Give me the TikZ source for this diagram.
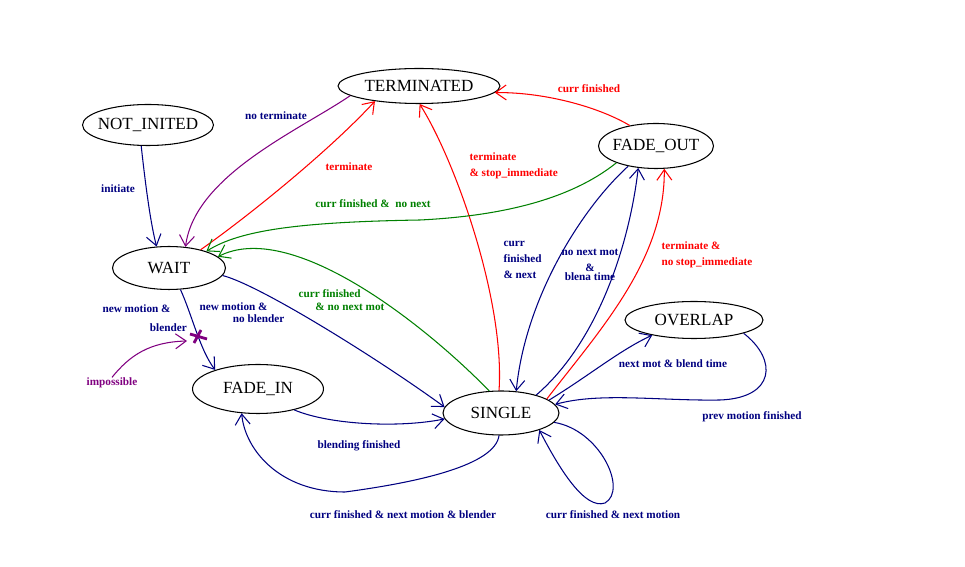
\documentclass[tikz,border=0pt]{standalone}
\usepackage{fontspec}
\setmainfont{Liberation Serif}
\usetikzlibrary{shapes.geometric,arrows.meta}
\definecolor{navy}{RGB}{0,0,128}
\definecolor{grn}{RGB}{0,128,0}
\definecolor{purp}{RGB}{128,0,128}
\begin{document}
\begin{tikzpicture}[x=0.02cm,y=-0.02cm,line width=0.6pt,>={Straight Barb[length=6pt,width=8.5pt]},
    state/.style={ellipse,draw,inner xsep=-6pt,inner ysep=0pt,font=\fontsize{9.7}{11}\selectfont},
    lab/.style={font=\fontsize{6.4}{9}\selectfont\bfseries,inner sep=0pt}]
    \useasboundingbox(0,0)rectangle(965,567);
    \node[state,minimum width=3.24cm,minimum height=0.70cm](term)at(419,86){TERMINATED};
    \node[state,minimum width=2.62cm,minimum height=0.82cm](notinit)at(148,125){NOT\_INITED};
    \node[state,minimum width=2.30cm,minimum height=0.90cm](fadeout)at(656,146){FADE\_OUT};
    \node[state,minimum width=2.26cm,minimum height=0.86cm](wait)at(169,268){WAIT};
    \node[state,minimum width=2.76cm,minimum height=0.74cm](overlap)at(694,320){OVERLAP};
    \node[state,minimum width=2.62cm,minimum height=0.98cm](fadein)at(258,389){FADE\_IN};
    \node[state,minimum width=2.32cm,minimum height=0.88cm](single)at(501,413){SINGLE};
    \draw[navy,->](notinit.252)..controls(146,190)and(151,225)..(wait.120);
    \draw[purp,->](term.188)..controls(300,130)and(195,175)..(wait.52);
    \draw[red,->](wait.30)..controls(250,215)and(330,150)..(term.199);
    \draw[red,->](single.95)..controls(505,300)and(455,160)..(term.272);
    \draw[red,->](fadeout.142)..controls(595,105)and(540,92)..(term.355);
    \draw[grn,->](fadeout.203)..controls(570,200)and(500,216)..(420,220)..controls(300,222)and(240,230)..(wait.24);
    \draw[grn,->](single.118)..controls(420,320)and(290,220)..(wait.13);
    \draw[navy,->](fadeout.216)..controls(580,210)and(525,300)..(single.55);
    \draw[navy,->](single.27)..controls(600,340)and(630,240)..(fadeout.231);
    \draw[red,->](single.17)..controls(600,330)and(665,260)..(fadeout.290);
    \draw[navy,->](single.15)..controls(590,375)and(620,350)..(overlap.200);
    \draw[navy,->](overlap.345)..controls(778,360)and(775,398)..(720,400)..controls(660,401)and(600,392)..(single.9);
    \draw[navy,->](wait.298)..controls(192,315)and(200,350)..(fadein.156);
    \draw[navy,->](wait.352)..controls(260,285)and(380,360)..(single.174);
    \draw[navy,->](fadein.330)..controls(330,425)and(400,428)..(single.186);
    \draw[navy,->](single.265)..controls(495,465)and(420,482)..(345,492)..controls(280,492)and(245,450)..(fadein.236);
    \draw[navy,->](single.350)..controls(600,430)and(628,490)..(605,503)..controls(585,510)and(560,470)..(single.336);
    \node[lab,purp](imp)at(112,383){impossible};
    \coordinate(imptip)at(187,341);
    \draw[purp,->](imp.north)..controls(130,355)and(150,342)..(imptip);
    \draw[purp,line width=1.6pt](190,334)--(207,339)(194,343)--(201,330);
    \node[lab,navy](noterm)at(276,116){no terminate};
    \node[lab,navy](init)at(118,189){initiate};
    \node[lab,red](termw)at(349,167){terminate};
    \node[lab,red,align=left,anchor=west](termstop)at(469,166){terminate\\\& stop\_immediate};
    \node[lab,red](curfin)at(589,89){curr finished};
    \node[lab,grn](finnonext)at(373,204){curr finished \&\ \ no next};
    \node[lab,navy,align=left,anchor=west](finnext)at(503,260){curr\\finished\\\& next};
    \node[lab,navy,align=center](nonext)at(590,265){no next mot\\\&\\[-3.6pt]blena time};
    \node[lab,red,align=left,anchor=west](termnostop)at(661,255){terminate \&\\no stop\_immediate};
    \node[lab,navy,align=left,anchor=west](newbl)at(102,318){new motion \&\\[1.8pt]\hspace*{27pt}blender};
    \node[lab,navy,align=left,anchor=west](newnobl)at(199,313){new motion \&\\[-2.2pt]\hspace*{19pt}no blender};
    \node[lab,grn,align=left,anchor=west](finnomot)at(298,300){curr finished\\[-1.6pt]\hspace*{9.6pt}\& no next mot};
    \node[lab,navy](nextblend)at(673,364){next mot \& blend time};
    \node[lab,navy](prevfin)at(752,417){prev motion finished};
    \node[lab,navy](blendfin)at(359,446){blending finished};
    \node[lab,navy](finnextbl)at(403,515){curr finished \& next motion \& blender};
    \node[lab,navy](finnextmot)at(613,515){curr finished \& next motion};
\end{tikzpicture}
\end{document}
